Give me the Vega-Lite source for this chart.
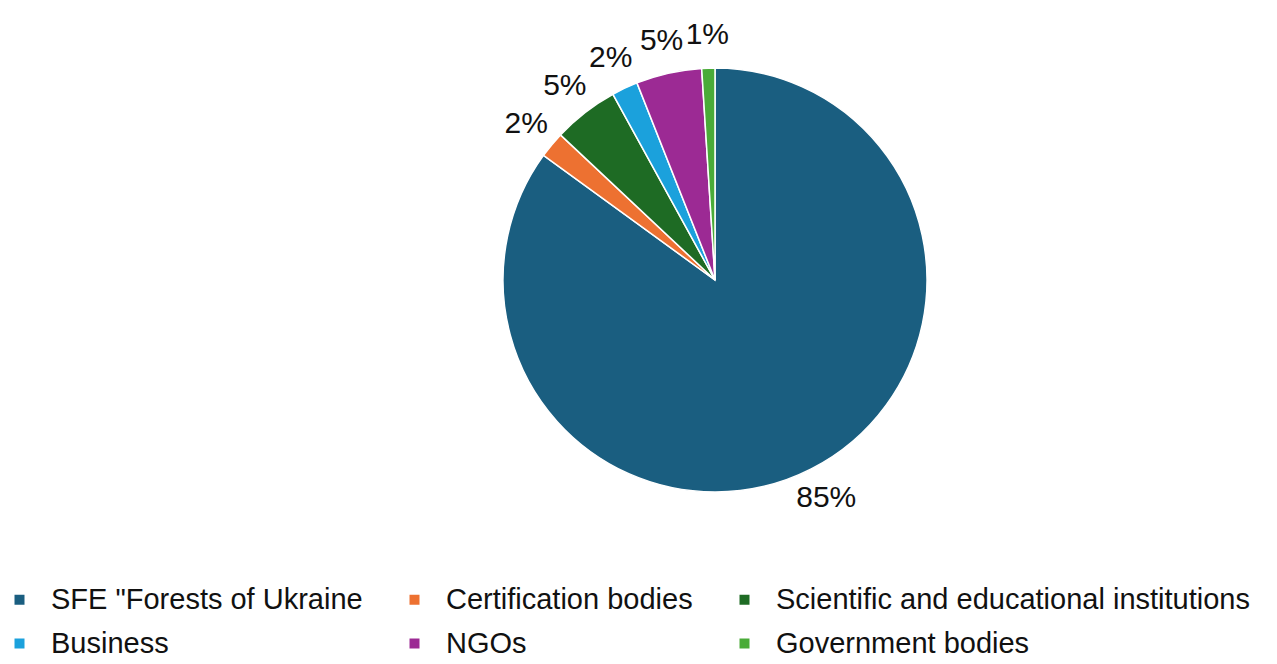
{
  "$schema": "https://vega.github.io/schema/vega-lite/v6.json",
  "autosize": {"type": "none"},
  "width": 1124,
  "height": 560,
  "padding": {"left": 153, "top": 0, "right": 0, "bottom": 104},
  "background": "white",
  "config": {"view": {"stroke": null}, "font": "Liberation Sans"},
  "data": {
    "values": [
      {"group": "SFE \"Forests of Ukraine", "share": 85, "label": "85%", "rank": 1},
      {"group": "Certification bodies", "share": 2, "label": "2%", "rank": 2},
      {"group": "Scientific and educational institutions", "share": 5, "label": "5%", "rank": 3},
      {"group": "Business", "share": 2, "label": "2%", "rank": 4},
      {"group": "NGOs", "share": 5, "label": "5%", "rank": 5},
      {"group": "Government bodies", "share": 1, "label": "1%", "rank": 6}
    ]
  },
  "encoding": {
    "theta": {"field": "share", "type": "quantitative", "stack": true},
    "order": {"field": "rank", "type": "quantitative"}
  },
  "layer": [
    {
      "mark": {"type": "arc", "outerRadius": 212, "stroke": "white", "strokeWidth": 1.5},
      "encoding": {
        "color": {
          "field": "group",
          "type": "nominal",
          "sort": ["SFE \"Forests of Ukraine", "Certification bodies", "Scientific and educational institutions", "Business", "NGOs", "Government bodies"],
          "scale": {
            "domain": ["SFE \"Forests of Ukraine", "Certification bodies", "Scientific and educational institutions", "Business", "NGOs", "Government bodies"],
            "range": ["#1a5e80", "#ed7131", "#1e6b24", "#1ba1dc", "#9c2a94", "#4aab38"]
          },
          "legend": {
            "orient": "none",
            "legendX": -148,
            "legendY": 585,
            "direction": "horizontal",
            "columns": 3,
            "title": null,
            "symbolType": "square",
            "symbolSize": 100,
            "symbolStrokeWidth": 0,
            "labelFontSize": 29,
            "labelFont": "Liberation Sans",
            "labelColor": "#111111",
            "labelLimit": 700,
            "labelOffset": 17,
            "columnPadding": 37,
            "rowPadding": 14
          }
        }
      }
    },
    {
      "mark": {"type": "text", "radius": 245, "fontSize": 30, "font": "Liberation Sans", "color": "#111111"},
      "encoding": {"text": {"field": "label"}}
    }
  ]
}
